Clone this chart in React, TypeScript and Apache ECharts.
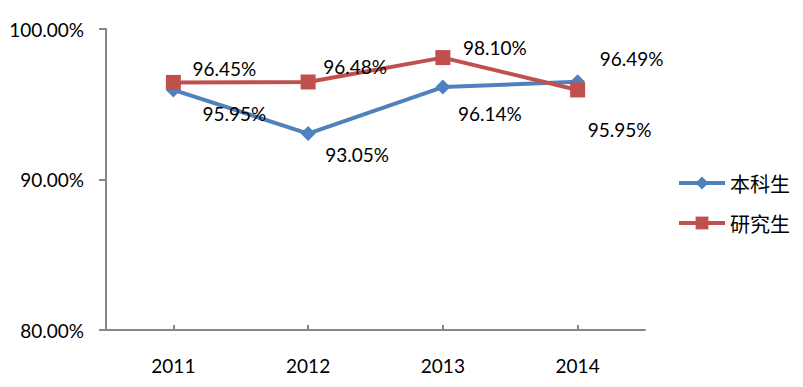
import React, { useEffect, useRef } from "react";
import * as echarts from "echarts";

const categories = ["2011", "2012", "2013", "2014"];
const undergrad = [95.95, 93.05, 96.14, 96.49];
const graduate = [96.45, 96.48, 98.1, 95.95];
const seriesNames = ["本科生", "研究生"];
const undergradLabelOffsets = [[61, 24], [49, 21], [47, 26], [54, -23]];
const graduateLabelOffsets = [[51, -14], [47, -15], [52, -10], [42, 40]];

const numFont = "Lato, 'Noto Sans', sans-serif";

function mkData(values: number[], offsets: number[][]) {
  return values.map((v, i) => ({
    value: v,
    label: { offset: offsets[i] },
  }));
}

export default function App() {
  const ref = useRef<HTMLDivElement>(null);
  useEffect(() => {
    const chart = echarts.init(ref.current!, null, { renderer: "svg" });
    const labelCommon = {
      show: true,
      position: "inside",
      color: "#000",
      fontFamily: numFont,
      fontSize: 19,
      formatter: (p: any) => p.value.toFixed(2) + "%",
    };
    chart.setOption({
      animation: false,
      backgroundColor: "#fff",
      grid: { left: 106, right: 158, top: 29, bottom: 57 },
      legend: {
        orient: "vertical",
        left: 677,
        top: 173,
        padding: 0,
        itemWidth: 46,
        itemHeight: 16,
        itemGap: 20,
        lineStyle: { width: 4 },
        textStyle: {
          fontFamily: "'Noto Sans CJK SC', sans-serif",
          fontSize: 20,
          lineHeight: 20,
          color: "#000",
        },
        data: seriesNames,
      },
      xAxis: {
        type: "category",
        data: categories,
        boundaryGap: true,
        axisLine: { lineStyle: { color: "#868686", width: 2 } },
        axisTick: {
          show: true,
          inside: true,
          alignWithLabel: true,
          length: 5,
          lineStyle: { color: "#868686", width: 2 },
        },
        axisLabel: {
          color: "#000",
          fontFamily: numFont,
          fontSize: 19,
          margin: 26,
        },
      },
      yAxis: {
        type: "value",
        min: 80,
        max: 100,
        interval: 10,
        splitLine: { show: false },
        axisLine: { show: true, lineStyle: { color: "#868686", width: 2 } },
        axisTick: {
          show: true,
          length: 7,
          lineStyle: { color: "#868686", width: 2 },
        },
        axisLabel: {
          color: "#000",
          fontFamily: numFont,
          fontSize: 19,
          margin: 22,
          formatter: (v: number) => v.toFixed(2) + "%",
        },
      },
      series: [
        {
          name: seriesNames[0],
          type: "line",
          data: mkData(undergrad, undergradLabelOffsets),
          symbol: "diamond",
          symbolSize: 15,
          color: "#4F81BD",
          lineStyle: { width: 4, color: "#4F81BD" },
          itemStyle: { color: "#4F81BD" },
          label: labelCommon,
          z: 2,
        },
        {
          name: seriesNames[1],
          type: "line",
          data: mkData(graduate, graduateLabelOffsets),
          symbol: "rect",
          symbolSize: 15,
          color: "#C0504D",
          lineStyle: { width: 4, color: "#C0504D" },
          itemStyle: { color: "#C0504D" },
          label: labelCommon,
          z: 3,
        },
      ],
    });
    return () => chart.dispose();
  }, []);
  return <div ref={ref} style={{ width: 803, height: 387, margin: -8 }} />;
}
